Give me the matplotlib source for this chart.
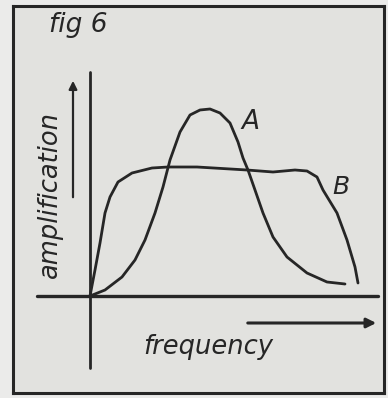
import matplotlib.pyplot as plt

# curve A: sharply tuned, curve B: flat band (arbitrary units)
freq_a = [0, 15, 32, 45, 55, 65, 73, 80, 90, 100, 110, 120, 130, 140, 148, 153,
          158, 165, 173, 183, 197, 217, 237, 255]
amp_a = [0, 6, 19, 36, 56, 83, 109, 136, 164, 181, 186, 187, 183, 173, 154, 138,
         126, 106, 83, 59, 39, 23, 14, 12]
freq_b = [0, 5, 10, 15, 20, 28, 42, 62, 78, 107, 157, 183, 205, 217, 227, 233,
          247, 257, 265, 268]
amp_b = [0, 26, 53, 83, 99, 114, 123, 128, 129, 129, 126, 124, 126, 125, 119, 106,
         83, 56, 29, 13]

ink = '#262626'

fig = plt.figure(figsize=(3.88, 3.98), dpi=100, facecolor='#ebebea')
ax = fig.add_axes([13/388, 5/398, 371/388, 387/398])
ax.set_facecolor('#e2e2df')
ax.set_xlim(-77, 294)
ax.set_ylim(-97, 290)
ax.set_xticks([])
ax.set_yticks([])
for s in ax.spines.values():
    s.set_linewidth(2.2)
    s.set_color(ink)

# axes of the sketch
ax.plot([-53, 288], [0, 0], color=ink, lw=2.4, solid_capstyle='round')
ax.plot([0, 0], [-72, 224], color=ink, lw=2.0, solid_capstyle='round')

ax.plot(freq_a, amp_a, color=ink, lw=2.0, solid_joinstyle='round', solid_capstyle='round')
ax.plot(freq_b, amp_b, color=ink, lw=2.0, solid_joinstyle='round', solid_capstyle='round')

ax.text(160, 174, 'A', fontsize=19, style='italic', color=ink, ha='center', va='center')
ax.text(251, 109, 'B', fontsize=18, style='italic', color=ink, ha='center', va='center')

# direction arrows
ax.annotate('', xy=(-17, 218), xytext=(-17, 96),
            arrowprops=dict(arrowstyle='-|>', color=ink, lw=1.6, mutation_scale=12))
ax.annotate('', xy=(289, -27), xytext=(155, -27),
            arrowprops=dict(arrowstyle='-|>', color=ink, lw=2.2, mutation_scale=14))

ax.text(-40, 102, 'amplification', fontsize=18.5, style='italic', color=ink,
        rotation=90, ha='center', va='center')
ax.text(118, -51, 'frequency', fontsize=18.5, style='italic', color=ink,
        ha='center', va='center')
ax.text(-12, 271, 'fig 6', fontsize=19, style='italic', color=ink,
        ha='center', va='center')

fig.savefig('out.png', dpi=100, facecolor=fig.get_facecolor())
